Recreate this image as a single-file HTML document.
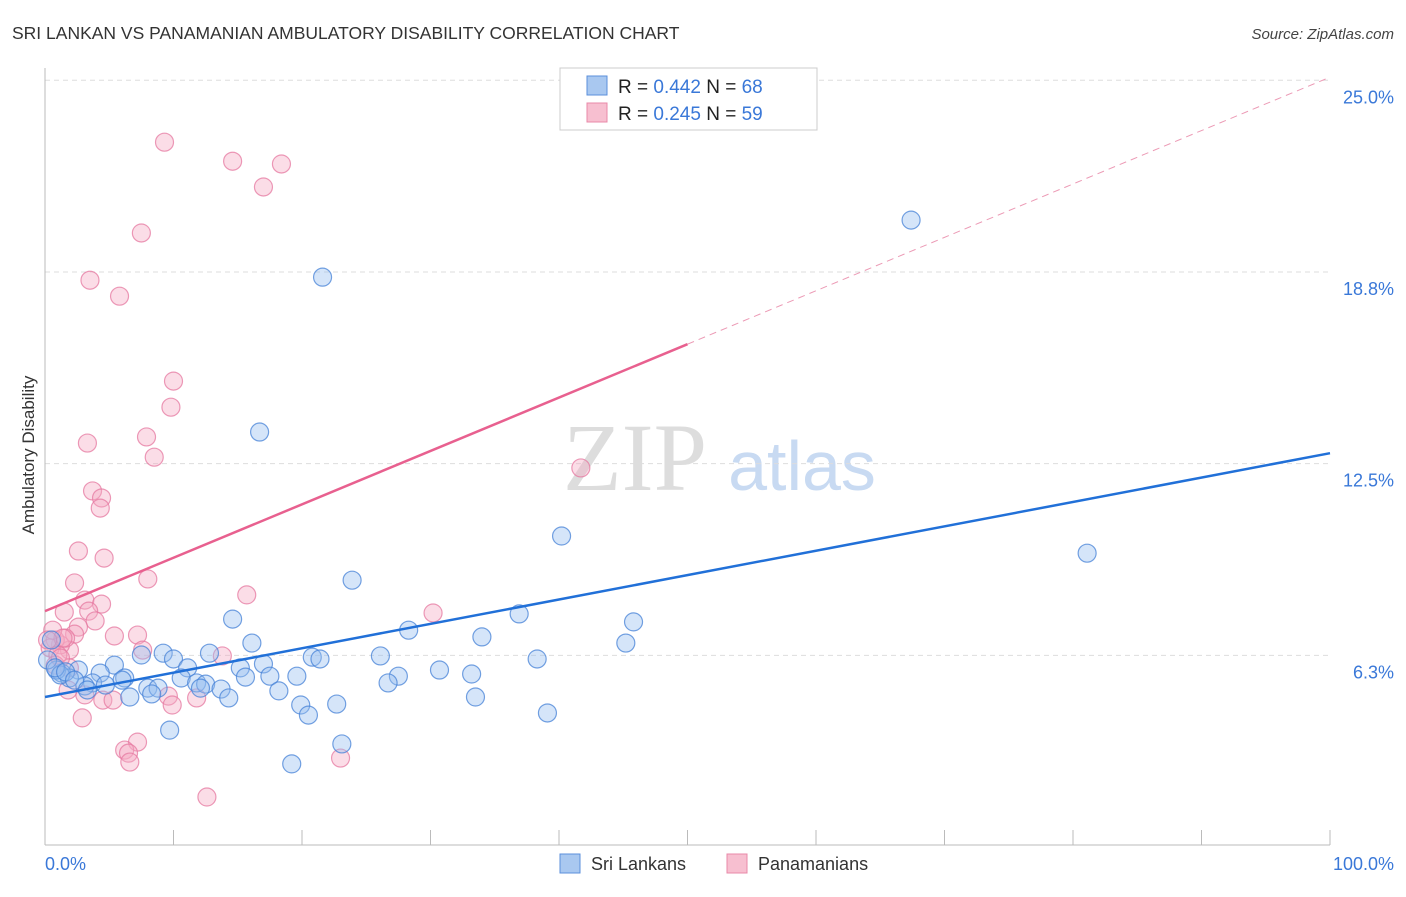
<!DOCTYPE html>
<html><head><meta charset="utf-8"><style>
body{margin:0;background:#fff;font-family:"Liberation Sans",sans-serif}
</style></head><body>
<svg id="chart" width="1406" height="892" xmlns="http://www.w3.org/2000/svg" font-family="Liberation Sans, sans-serif">
<text x="12" y="39" font-size="17.5" fill="#333">SRI LANKAN VS PANAMANIAN AMBULATORY DISABILITY CORRELATION CHART</text>
<text x="1394" y="39" font-size="15" fill="#444" font-style="italic" text-anchor="end">Source: ZipAtlas.com</text>
<g>
<text x="635" y="490" font-size="96" fill="#ddd" font-family="Liberation Serif, serif" text-anchor="middle">ZIP</text>
<text x="802" y="490" font-size="70" fill="#c8daf2" text-anchor="middle">atlas</text>
</g>
<g id="grid"></g>
<line x1="45" y1="68" x2="45" y2="845" stroke="#bbb"/>
<line x1="45" y1="845" x2="1330" y2="845" stroke="#bbb"/>
<g id="xticks"></g>
<g id="ylabels"></g>
<text x="45" y="870" font-size="18" fill="#3a78d8">0.0%</text>
<text x="1394" y="870" font-size="18" fill="#3a78d8" text-anchor="end">100.0%</text>
<text transform="translate(34,455) rotate(-90)" font-size="17" fill="#333" text-anchor="middle">Ambulatory Disability</text>
<g id="pinkpts"></g>
<g id="bluepts"></g>
<g id="lines"></g>
<g>
<rect x="560" y="68" width="257" height="62" fill="#fff" stroke="#ccc"/>
<rect x="587" y="76" width="20" height="19" fill="#a9c8f0" stroke="#5b8fdb"/>
<rect x="587" y="103" width="20" height="19" fill="#f7bfd0" stroke="#e888a8"/>
<text x="618" y="93" font-size="19" fill="#222">R = <tspan fill="#3a78d8">0.442</tspan>   N = <tspan fill="#3a78d8">68</tspan></text>
<text x="618" y="120" font-size="19" fill="#222">R = <tspan fill="#3a78d8">0.245</tspan>   N = <tspan fill="#3a78d8">59</tspan></text>
</g>
<g>
<rect x="560" y="854" width="20" height="19" fill="#a9c8f0" stroke="#5b8fdb"/>
<text x="591" y="870" font-size="18" fill="#333">Sri Lankans</text>
<rect x="727" y="854" width="20" height="19" fill="#f7bfd0" stroke="#e888a8"/>
<text x="758" y="870" font-size="18" fill="#333">Panamanians</text>
</g>
</svg>
<script>
const yTicks=[6.25,12.5,18.75,25];
const yTickLabels=["6.3%","12.5%","18.8%","25.0%"];
const xTickVals=[0,10,20,30,40,50,60,70,80,90,100];
const blueX=[67.4,21.6,16.7,40.2,81.1,23.9,36.9,45.8,14.6,28.3,34.0,45.2,16.1,9.2,7.5,12.8,10.0,26.1,38.3,20.8,21.4,30.7,33.2,11.1,15.2,17.0,19.6,27.5,26.7,17.5,15.6,5.4,4.3,2.6,1.3,6.2,6.0,10.6,11.8,12.5,3.7,3.1,4.7,1.9,0.9,1.2,8.0,8.8,13.7,18.2,14.3,6.6,8.3,33.5,19.9,22.7,20.5,39.1,9.7,23.1,19.2,0.5,0.2,0.8,1.6,2.3,3.3,12.1];
const blueY=[20.44,18.58,13.53,10.14,9.58,8.70,7.60,7.34,7.43,7.07,6.85,6.65,6.65,6.32,6.26,6.32,6.13,6.23,6.13,6.19,6.13,5.77,5.64,5.84,5.84,5.97,5.57,5.57,5.35,5.57,5.54,5.93,5.67,5.77,5.67,5.51,5.44,5.51,5.35,5.31,5.35,5.25,5.28,5.51,5.77,5.61,5.18,5.18,5.15,5.09,4.86,4.89,4.99,4.89,4.63,4.66,4.30,4.37,3.81,3.36,2.71,6.75,6.10,5.84,5.71,5.44,5.12,5.18];
const pinkX=[9.3,14.6,18.4,17.0,7.5,3.5,5.8,10.0,9.8,3.3,7.9,8.5,41.7,3.7,4.4,4.3,2.6,4.6,2.3,8.0,15.7,3.1,4.4,3.4,1.5,30.2,3.9,2.6,7.2,2.3,5.4,7.6,13.8,1.9,1.2,0.8,0.4,1.6,1.0,0.6,0.8,1.9,1.2,9.6,11.8,3.1,1.8,4.5,5.3,9.9,2.9,7.2,6.2,6.5,6.6,23.0,12.6,1.4,0.2];
const pinkY=[22.98,22.36,22.27,21.52,20.02,18.48,17.96,15.19,14.34,13.17,13.37,12.71,12.36,11.61,11.38,11.05,9.65,9.42,8.61,8.74,8.22,8.05,7.92,7.69,7.66,7.63,7.37,7.17,6.91,6.94,6.88,6.42,6.23,6.42,6.59,6.75,6.49,6.81,6.26,7.07,5.93,5.84,6.16,4.92,4.86,4.96,5.12,4.79,4.79,4.63,4.21,3.42,3.16,3.06,2.77,2.90,1.63,6.81,6.75];
const blueLine=[4.89,12.84];
const pinkLine=[7.69,25.1];
const NS="http://www.w3.org/2000/svg";
const X=v=>45+v*12.85;
const Y=v=>847-v*30.67;
function mk(tag,attrs,parent){const e=document.createElementNS(NS,tag);for(const k in attrs)e.setAttribute(k,attrs[k]);document.getElementById(parent).appendChild(e);return e;}
yTicks.forEach((t,i)=>{
 const g=mk('line',{x1:45,x2:1330,y1:Y(t),y2:Y(t),stroke:'#ddd','stroke-dasharray':'5,4'},'grid');
 
 
 const l=mk('text',{x:1394,y:Y(t)+23,'font-size':18,fill:'#3a78d8','text-anchor':'end'},'ylabels');
 l.textContent=yTickLabels[i];
 
 
});
xTickVals.forEach(v=>{
 const t=mk('line',{x1:X(v),x2:X(v),y1:830,y2:845,stroke:'#bbb'},'xticks');
 
 
});
pinkX.forEach((v,i)=>{
 const c=mk('circle',{cx:X(v),cy:Y(pinkY[i]),r:9,fill:'rgba(245,170,195,0.4)',stroke:'rgba(230,120,160,0.75)','stroke-width':1.2},'pinkpts');
 
 
});
blueX.forEach((v,i)=>{
 const c=mk('circle',{cx:X(v),cy:Y(blueY[i]),r:9,fill:'rgba(150,190,240,0.4)',stroke:'rgba(70,130,215,0.75)','stroke-width':1.2},'bluepts');
 
 
});
const bl=mk('line',{x1:X(0),y1:Y(blueLine[0]),x2:X(100),y2:Y(blueLine[1]),stroke:'#2170d8','stroke-width':2.5},'lines');


const pm=pinkLine[0]+(pinkLine[1]-pinkLine[0])*0.5;
const pl=mk('line',{x1:X(0),y1:Y(pinkLine[0]),x2:X(50),y2:Y(pm),stroke:'#e8608f','stroke-width':2.5},'lines');


const pd=mk('line',{x1:X(50),y1:Y(pm),x2:X(100),y2:Y(pinkLine[1]),stroke:'#ec9ab5','stroke-width':1,'stroke-dasharray':'7,5'},'lines');


</script>
</body></html>
